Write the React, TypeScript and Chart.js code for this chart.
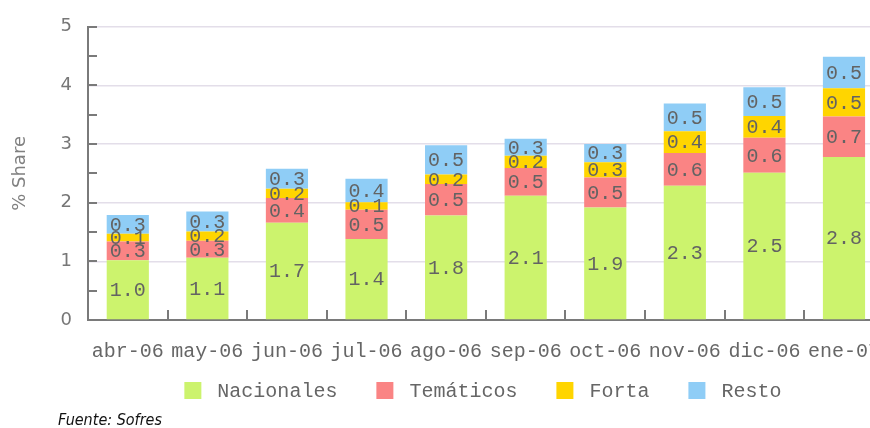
import React, { useEffect, useRef } from 'react';
import { Chart, registerables } from 'chart.js';

Chart.register(...registerables);

const categories = ['abr-06', 'may-06', 'jun-06', 'jul-06', 'ago-06', 'sep-06', 'oct-06', 'nov-06', 'dic-06', 'ene-07'];
const nacionales = [1.02, 1.06, 1.66, 1.38, 1.78, 2.12, 1.92, 2.29, 2.51, 2.78];
const tematicos = [0.32, 0.29, 0.42, 0.5, 0.54, 0.47, 0.51, 0.56, 0.6, 0.69];
const forta = [0.13, 0.16, 0.16, 0.13, 0.16, 0.21, 0.26, 0.37, 0.37, 0.48];
const resto = [0.32, 0.34, 0.34, 0.4, 0.5, 0.29, 0.31, 0.47, 0.49, 0.54];
const seriesNames = ['Nacionales', 'Temáticos', 'Forta', 'Resto'];
const seriesColors = ['#ccf36d', '#fa8484', '#ffd500', '#8fcdf6'];
const yMin = 0;
const yMax = 5;
const yStep = 0.5;
const yTitle = '% Share';
const sourceText = 'Fuente: Sofres';

const CW = 900;
const CH = 428;
const MONO = '"Liberation Mono", "DejaVu Sans Mono", monospace';
const AXIS = '#7a7a7a';

export default function App() {
  const ref = useRef<HTMLCanvasElement>(null);

  useEffect(() => {
    document.body.style.margin = '0';
    const canvas = ref.current!;
    const series = [nacionales, tematicos, forta, resto];

    const decor = {
      id: 'decor',
      afterDatasetsDraw(chart: any) {
        const ctx = chart.ctx;
        ctx.save();
        ctx.font = `20px ${MONO}`;
        ctx.fillStyle = '#636363';
        ctx.textAlign = 'center';
        ctx.textBaseline = 'middle';
        chart.data.datasets.forEach((ds: any, di: number) => {
          const meta = chart.getDatasetMeta(di);
          meta.data.forEach((bar: any, i: number) => {
            const v = ds.data[i] as number;
            const t = (Math.round(v * 10) / 10).toFixed(1);
            ctx.fillText(t, bar.x, (bar.y + bar.base) / 2 + 1);
          });
        });
        ctx.restore();
      },
      afterDraw(chart: any) {
        const ctx = chart.ctx;
        const xs = chart.scales.x;
        const ys = chart.scales.y;
        const area = chart.chartArea;
        ctx.save();
        ctx.strokeStyle = AXIS;
        ctx.lineWidth = 2;
        for (let i = 1; i < categories.length; i++) {
          const x = Math.round((xs.getPixelForValue(i - 1) + xs.getPixelForValue(i)) / 2);
          ctx.beginPath();
          ctx.moveTo(x, area.bottom);
          ctx.lineTo(x, area.bottom - 10);
          ctx.stroke();
        }
        for (let v = yMin + yStep; v <= yMax + 1e-9; v += yStep) {
          const y = Math.round(ys.getPixelForValue(v));
          ctx.beginPath();
          ctx.moveTo(area.left, y);
          ctx.lineTo(area.left + 9, y);
          ctx.stroke();
        }
        // legend
        ctx.font = `20px ${MONO}`;
        ctx.textBaseline = 'middle';
        ctx.textAlign = 'left';
        const box = 17;
        const gapText = 16;
        const gapItem = 39;
        const widths = seriesNames.map((n) => ctx.measureText(n).width);
        const total = widths.reduce((a, b) => a + b, 0) + seriesNames.length * (box + gapText) + (seriesNames.length - 1) * gapItem;
        const center = (area.left + area.right) / 2 - 3;
        let x = center - total / 2;
        const boxTop = 382;
        seriesNames.forEach((n, i) => {
          ctx.fillStyle = seriesColors[i];
          ctx.fillRect(x, boxTop, box, box);
          x += box + gapText;
          ctx.fillStyle = '#666';
          ctx.fillText(n, x, boxTop + box / 2 + 1);
          x += widths[i] + gapItem;
        });
        // source
        ctx.font = 'italic 16px "Liberation Sans Narrow", "DejaVu Sans Condensed", sans-serif';
        ctx.fillStyle = '#111';
        ctx.textBaseline = 'alphabetic';
        ctx.fillText(sourceText, 58, 425);
        ctx.restore();
      },
    };

    const chart = new Chart(canvas, {
      type: 'bar',
      data: {
        labels: categories,
        datasets: series.map((d, i) => ({
          label: seriesNames[i],
          data: d,
          backgroundColor: seriesColors[i],
          borderWidth: 0,
          barPercentage: 0.53,
          categoryPercentage: 1,
        })),
      },
      options: {
        responsive: false,
        animation: false,
        devicePixelRatio: 1,
        layout: { padding: { top: 23, right: 0, bottom: 0, left: 0 } },
        plugins: { legend: { display: false }, tooltip: { enabled: false } },
        scales: {
          x: {
            stacked: true,
            grid: { display: false, drawTicks: false },
            border: { color: AXIS, width: 2 },
            ticks: { font: { family: MONO, size: 20 }, color: '#666', padding: 20, maxRotation: 0, autoSkip: false },
            afterFit: (s: any) => { s.height = 108; },
          },
          y: {
            stacked: true,
            min: yMin,
            max: yMax,
            ticks: {
              stepSize: yStep,
              autoSkip: false,
              callback: (v: any) => (Number.isInteger(v) ? String(v) : ''),
              font: { family: '"DejaVu Sans", sans-serif', size: 18 },
              color: '#777',
              padding: 16,
            },
            grid: {
              drawTicks: false,
              lineWidth: 1.5,
              color: (c: any) => {
                const v = c.tick ? c.tick.value : 0;
                return Number.isInteger(v) && v !== 0 ? '#e3dee9' : 'rgba(0,0,0,0)';
              },
            },
            border: { color: AXIS, width: 2 },
            title: {
              display: true,
              text: yTitle,
              font: { family: '"DejaVu Sans", sans-serif', size: 18 },
              color: '#808080',
              padding: { top: 10, bottom: 0 },
            },
            afterFit: (s: any) => { s.width = 88; },
          },
        },
      },
      plugins: [decor],
    } as any);

    return () => chart.destroy();
  }, []);

  return (
    <div style={{ width: 870, height: 428, overflow: 'hidden', position: 'relative' }}>
      <canvas ref={ref} width={CW} height={CH} style={{ display: 'block', width: CW, height: CH }} />
    </div>
  );
}
